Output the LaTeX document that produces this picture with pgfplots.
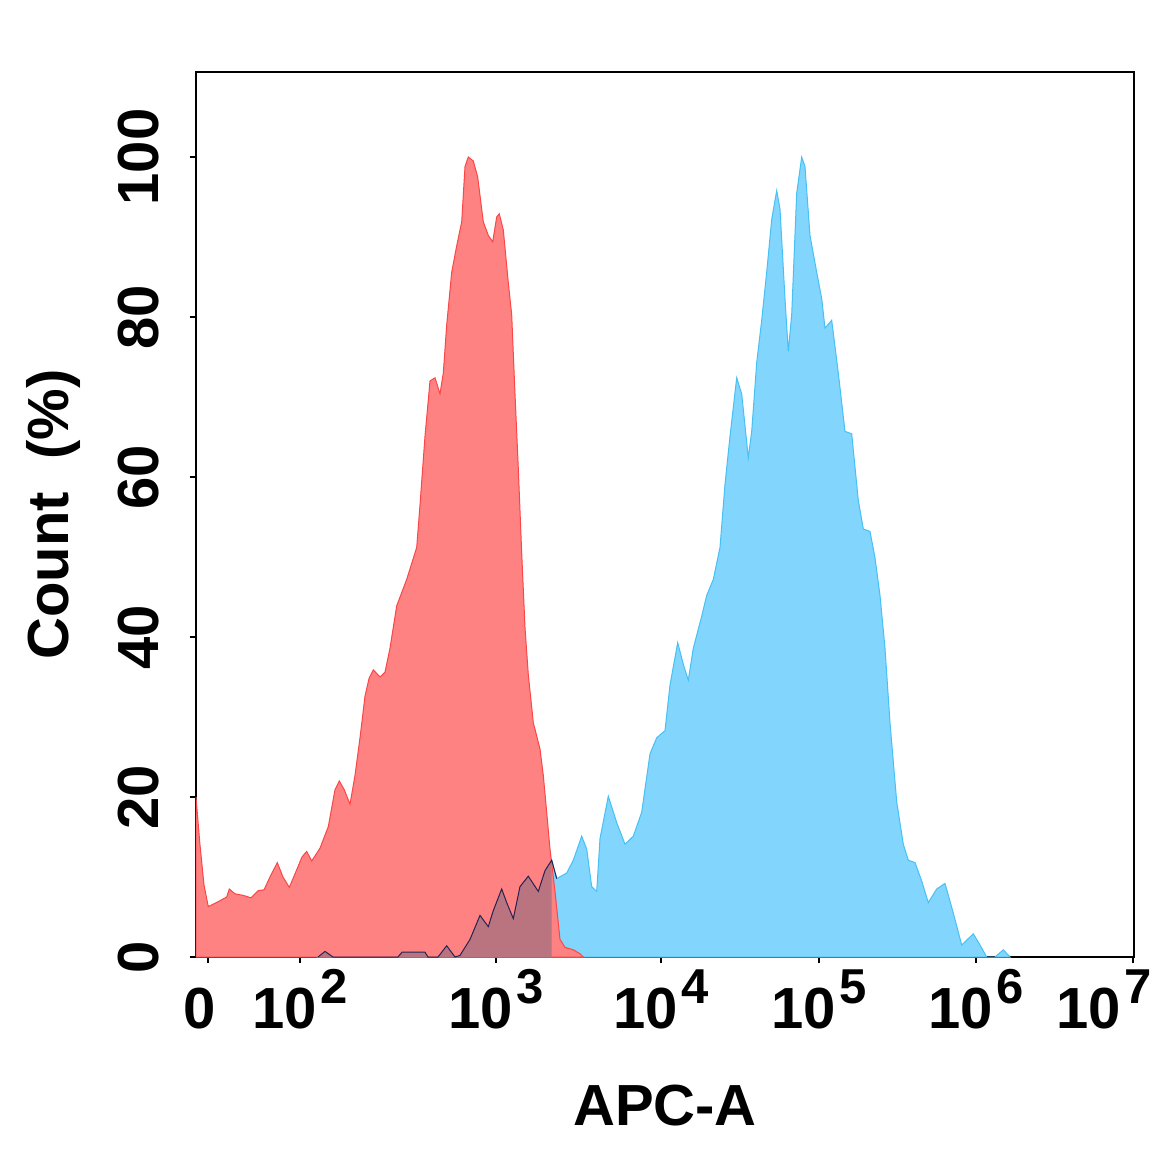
\documentclass[border=0pt]{standalone}
\usepackage{pgfplots}
\pgfplotsset{compat=1.18}
\usepackage{pgfplotstable}
\usepackage{fontspec}
\setmainfont{Liberation Sans}
\definecolor{redfill}{RGB}{255,130,130}
\definecolor{rededge}{RGB}{250,70,70}
\definecolor{bluefill}{RGB}{130,213,252}
\definecolor{blueedge}{RGB}{70,192,245}
\definecolor{mauve}{RGB}{186,116,128}
\definecolor{navy}{RGB}{35,35,85}
\newcommand\sups[1]{\hspace{1.5pt}\raisebox{12.5pt}{\fontsize{24.5}{24.5}\selectfont #1}}

% x = display position along the biexponential APC-A axis, y = Count (%)
\pgfplotstableread{
x v
196 20
200 14
204 9
208.3 6.3
218 6.9
226.7 7.5
229.3 8.5
235 7.9
243.3 7.7
251 7.4
258.3 8.3
264 8.4
270 10
277.3 11.8
283 10
289.3 8.7
296.7 10.9
302 12.5
306.7 13.2
311.7 12
320 13.6
328.3 16.3
335 20.9
339.3 22
344.3 20.9
350 19.1
355 22.7
360 27.4
365 32.6
369 34.8
373.3 35.9
380 35
385 35.6
390 38.6
396.7 43.9
406.7 47.2
416.7 51.2
420 56.5
425 65.1
430 72
435 72.4
440 70.4
443.3 73
446.7 79
451.7 85.6
456.7 88.9
461.7 91.9
465 98.8
468.3 100
473.3 99.5
477.7 97.5
483.3 91.9
488.3 90.2
492.7 89.4
496.7 92.5
499.3 92.9
503.3 90.9
508.3 84.3
511.7 80.3
515 70.4
518.3 61.1
521.7 50.5
525 41.2
528.3 35.3
533.3 29.3
540 26
543.3 22.7
546.7 18.1
550 13.5
555 8.2
560 2.2
565 1.2
573.3 0.9
580 0.4
583.3 0
}\reddata

\pgfplotstableread{
x v
318 0
325 0.7
333 0
398 0
402 0.6
412 0.6
425 0.6
428 0
438 0
446.7 1.4
455 0
460 0.2
470 2.2
480 5.2
488.3 3.8
493.3 5.8
501.7 8.5
506.7 6.8
513.3 4.8
520 8.8
528.3 10.1
538.3 8.2
545 10.8
551.7 12.1
556.7 9.8
566.7 10.5
573.3 12.1
581.7 15.1
586.7 13.5
591.7 8.8
596.7 8.2
600 14.8
608.3 20.1
616.7 16.8
625 14.1
633.3 15.1
641.7 18.1
650 25.4
656.7 27.4
665 28.3
670 34
677.7 39.3
683.3 36.6
688.3 34.6
693.3 38.6
701.7 42.6
706.7 45.2
713.3 47.2
720 51.2
725 59.1
730 65.1
736.7 72.4
741.7 70.4
748.3 62.4
751.7 65.7
756.7 74.3
761.7 79.6
766.7 85.6
771.7 92.2
776.7 95.8
780 93.5
785 82.3
788.3 75.7
791.7 80.3
796.7 95.5
801.7 100
805 98.8
810 90.2
816.7 85.6
821.7 82.3
825 78.6
831.7 79.6
838.3 73
845 65.7
851.7 65.4
858.3 57.1
863.3 53.5
870 53.2
875 49.9
880 45.2
885 38.6
890 29.3
896.7 19.4
903.3 14.1
908.3 12.1
915 11.8
921.7 9.5
928.3 6.8
936.7 8.5
945 9.2
953.3 5.5
961.7 1.5
973.3 2.9
980 1.5
986.7 0
995 0
1003.3 0.9
1010 0
}\bluedata

\begin{document}
\begin{tikzpicture}
\begin{axis}[
  scale only axis,
  width=469pt, height=442.5pt,
  xmin=196, xmax=1134,
  ymin=0, ymax=110.625,
  axis line style={line width=0.9pt, black},
  tick pos=left,
  tick align=outside,
  major tick length=3pt,
  tick style={line width=0.6pt, black},
  xtick={208,300,496,661,819,976,1133},
  xticklabels={{0\hspace*{8pt}},{10\sups{2}},{10\sups{3}},{10\sups{4}},{10\sups{5}},{10\sups{6}},{10\sups{7}\hspace*{29pt}}},
  ytick={0,20,40,60,80,100},
  /pgf/number format/assume math mode=true,
  ticklabel style={font=\bfseries\fontsize{29}{29}\selectfont, inner sep=0pt},
  xticklabel style={anchor=base},
  xticklabel shift=32.5pt,
  yticklabel style={rotate=90, anchor=south},
  yticklabel shift=15.5pt,
  xlabel={APC-A},
  ylabel={Count\ \ (\%)},
  label style={font=\bfseries\fontsize{29}{29}\selectfont, inner sep=0pt},
  xlabel style={at={(rel axis cs:0.5,0)}, anchor=base, yshift=-84pt},
  ylabel style={at={(rel axis cs:0,0.5)}, rotate=0, anchor=base, yshift=63.5pt},
]
\addplot[fill=bluefill, draw=blueedge, line width=0.5pt] table[x=x,y=v] {\bluedata} \closedcycle;
\addplot[fill=redfill, draw=rededge, line width=0.5pt] table[x=x,y=v] {\reddata} \closedcycle;
\addplot[fill=mauve, draw=none, restrict x to domain=300:552] table[x=x,y=v] {\bluedata} \closedcycle;
\addplot[draw=navy, line width=0.5pt, restrict x to domain=300:557] table[x=x,y=v] {\bluedata};
\coordinate (bbA) at (axis cs:0,119.625);
\coordinate (bbB) at (axis cs:1152,-24.375);
\end{axis}
\pgfresetboundingbox
\useasboundingbox (bbA) rectangle (bbB);
\end{tikzpicture}
\end{document}
